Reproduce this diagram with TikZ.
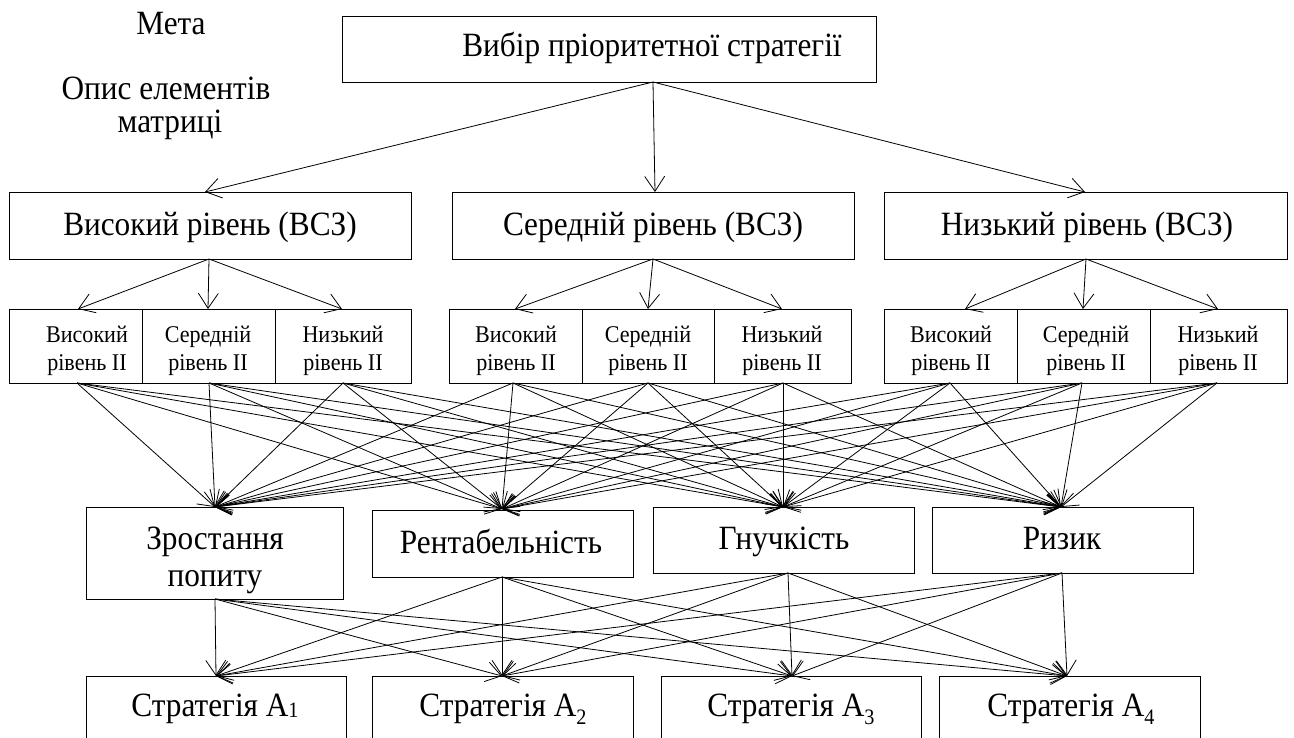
\documentclass[tikz,border=0pt]{standalone}
\usepackage{fontspec}
\setmainfont{Liberation Serif}[FakeStretch=0.92]
\usetikzlibrary{arrows.meta}
\begin{document}
\begin{tikzpicture}[x=1pt,y=-1pt,line width=0.9pt,
  box/.style={draw,line width=0.9pt,inner sep=0pt},
  subbox/.style={draw,line width=0.9pt,inner sep=0pt,minimum height=74pt},
  txt/.style={inner sep=0pt,anchor=base,font=\fontsize{34}{38}\selectfont},
  stxt/.style={inner sep=0pt,anchor=base,font=\fontsize{24}{28}\selectfont},
  arr/.style={-{Straight Barb[length=15pt,width=20pt]},line width=0.8pt}]
\useasboundingbox (0,0) rectangle (1294,738);
\clip (0,0) rectangle (1294,738);
% left labels
\node[txt] (meta) at (171,35) {Мета};
\node[txt] (opys1) at (166,100) {Опис елементів};
\node[txt] (opys2) at (170,133) {матриці};
% top
\node[box,minimum width=534pt,minimum height=66pt] (top) at (609,49) {};
\node[txt] (topt) at (652,57) {Вибір пріоритетної стратегії};
% level 2
\node[box,minimum width=402pt,minimum height=67pt] (l1) at (210,225.5) {};
\node[box,minimum width=402pt,minimum height=67pt] (l2) at (653,225.5) {};
\node[box,minimum width=403pt,minimum height=67pt] (l3) at (1085.5,225.5) {};
\node[txt] (l1t) at (210,236) {Високий рівень (ВСЗ)};
\node[txt] (l2t) at (653,236) {Середній рівень (ВСЗ)};
\node[txt] (l3t) at (1087,236) {Низький рівень (ВСЗ)};
% level 3
\node[subbox,minimum width=133pt] (s11) at (75.5,346) {};
\node[subbox,minimum width=133pt] (s12) at (208.5,346) {};
\node[subbox,minimum width=136pt] (s13) at (343,346) {};
\node[subbox,minimum width=133pt] (s21) at (515.5,346) {};
\node[subbox,minimum width=132pt] (s22) at (648,346) {};
\node[subbox,minimum width=137pt] (s23) at (782.5,346) {};
\node[subbox,minimum width=133pt] (s31) at (950.5,346) {};
\node[subbox,minimum width=133pt] (s32) at (1083.5,346) {};
\node[subbox,minimum width=137pt] (s33) at (1218.5,346) {};
\foreach \n/\x/\w in {s11/87/Високий,s12/208/Середній,s13/343/Низький,
                      s21/516/Високий,s22/648/Середній,s23/782/Низький,
                      s31/951/Високий,s32/1086/Середній,s33/1218/Низький}{
  \node[stxt] (\n a) at (\x,342) {\w};
  \node[stxt] (\n b) at (\x,370) {рівень ІІ};
}
% criteria
\node[box,minimum width=257pt,minimum height=92pt] (z) at (214.5,553) {};
\node[box,minimum width=261pt,minimum height=67pt] (r) at (502.5,543.5) {};
\node[box,minimum width=261pt,minimum height=66pt] (g) at (783.5,540) {};
\node[box,minimum width=261pt,minimum height=66pt] (k) at (1062.5,540) {};
\node[txt] (zt1) at (215,549) {Зростання};
\node[txt] (zt2) at (215,586) {попиту};
\node[txt] (rt) at (501,553) {Рентабельність};
\node[txt] (gt) at (784,549) {Гнучкість};
\node[txt] (kt) at (1062,549) {Ризик};
% strategies
\node[box,minimum width=260pt,minimum height=90pt] (a1) at (216,721) {};
\node[box,minimum width=261pt,minimum height=90pt] (a2) at (502.5,721) {};
\node[box,minimum width=260pt,minimum height=90pt] (a3) at (791,721) {};
\node[box,minimum width=261pt,minimum height=90pt] (a4) at (1069.5,721) {};
\node[txt] (a1t) at (215,716) {Стратегія A{\fontsize{22}{22}\selectfont\raisebox{-1pt}{1}}};
\node[txt] (a2t) at (503,716) {Стратегія A\raisebox{-8pt}{\fontsize{22}{22}\selectfont 2}};
\node[txt] (a3t) at (791,716) {Стратегія A\raisebox{-8pt}{\fontsize{22}{22}\selectfont 3}};
\node[txt] (a4t) at (1071,716) {Стратегія A\raisebox{-8pt}{\fontsize{22}{22}\selectfont 4}};
% ports
\coordinate (topo) at (653,82);
\coordinate (l1i) at (205,192); \coordinate (l2i) at (655,192); \coordinate (l3i) at (1085,192);
\coordinate (l1o) at (209,259); \coordinate (l2o) at (653,259); \coordinate (l3o) at (1086,259);
\coordinate (s11i) at (78,309); \coordinate (s12i) at (208,309); \coordinate (s13i) at (342,309);
\coordinate (s21i) at (515,309); \coordinate (s22i) at (648,309); \coordinate (s23i) at (782,309);
\coordinate (s31i) at (965,309); \coordinate (s32i) at (1083,309); \coordinate (s33i) at (1218,309);
\coordinate (s11o) at (77,383); \coordinate (s12o) at (209,383); \coordinate (s13o) at (343,383);
\coordinate (s21o) at (513,383); \coordinate (s22o) at (648,383); \coordinate (s23o) at (783,383);
\coordinate (s31o) at (950,383); \coordinate (s32o) at (1082,383); \coordinate (s33o) at (1217,383);
\coordinate (zi) at (215,507); \coordinate (ri) at (502,509); \coordinate (gi) at (783,507); \coordinate (ki) at (1061,507);
\coordinate (zo) at (215,599); \coordinate (ro) at (502,577); \coordinate (go) at (788,573); \coordinate (ko) at (1062,573);
\coordinate (a1i) at (216,676); \coordinate (a2i) at (502,676); \coordinate (a3i) at (792,676); \coordinate (a4i) at (1067,676);
% connectors
\foreach \t in {l1i,l2i,l3i} \draw[arr] (topo) -- (\t);
\foreach \t in {s11i,s12i,s13i} \draw[arr] (l1o) -- (\t);
\foreach \t in {s21i,s22i,s23i} \draw[arr] (l2o) -- (\t);
\foreach \t in {s31i,s32i,s33i} \draw[arr] (l3o) -- (\t);
\foreach \s in {s11o,s12o,s13o,s21o,s22o,s23o,s31o,s32o,s33o}
  \foreach \t in {zi,ri,gi,ki} \draw[arr] (\s) -- (\t);
\foreach \s in {zo,ro,go,ko}
  \foreach \t in {a1i,a2i,a3i,a4i} \draw[arr] (\s) -- (\t);
\end{tikzpicture}
\end{document}
